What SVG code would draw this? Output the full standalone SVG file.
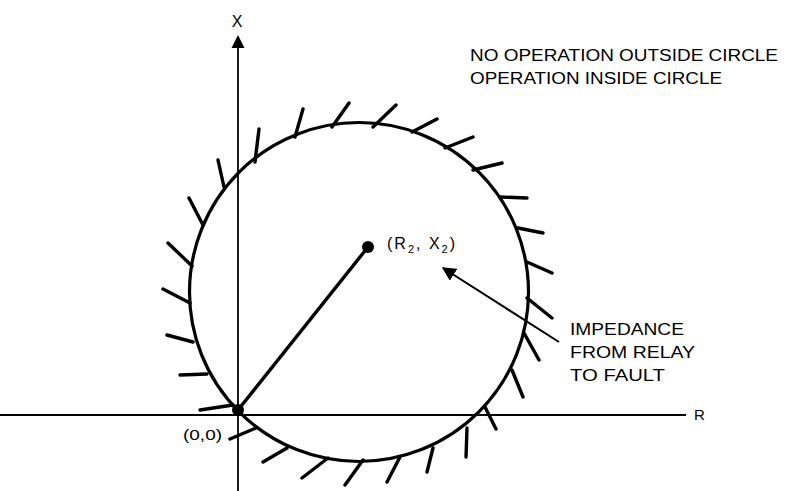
<svg xmlns="http://www.w3.org/2000/svg" width="792" height="491" viewBox="0 0 792 491">
<style>
  .ax { stroke:#000; stroke-width:1.8; fill:none; }
  .circ { stroke:#000; stroke-width:3.2; fill:none; }
  .tick { stroke:#000; stroke-width:3.4; fill:none; stroke-linecap:round; }
  .t { font-family:"Liberation Sans", Arial, sans-serif; fill:#000; }
</style>
<defs>
  <marker id="ah" viewBox="0 0 10 10" refX="9" refY="5" markerWidth="7" markerHeight="7" markerUnits="strokeWidth" orient="auto">
    <path d="M0,0 L10,5 L0,10 z" fill="#000"/>
  </marker>
</defs>
<rect width="792" height="491" fill="#fff"/>
<g id="axes">
  <line class="ax" x1="238" y1="46" x2="238" y2="491"/>
  <path d="M238,35 L231.5,48 L244.5,48 z" fill="#000"/>
  <line class="ax" x1="0" y1="415" x2="686" y2="415"/>
  <text class="t" x="237" y="27" font-size="16" text-anchor="middle">X</text>
  <text class="t" x="694" y="420" font-size="15">R</text>
</g>
<g id="circle">
  <circle class="circ" cx="359" cy="292" r="169.5"/>
  <path class="tick" d="M203,225 L189,198 M192,266 L168,243 M190,303 L163,289 M193,342 L167,335 M207,374 L180,375 M233,405 L200,410 M256,428 L230,439 M287,448 L263,462 M328,458 L302,478 M363,460 L345,485 M400,457 L387,482 M433,448 L427,472 M467,428 L466,457 M485,407 L496,429 M512,370 L523,397 M524,333 L539,360 M527,298 L552,318 M527,262 L552,273 M518,228 L543,233 M500,197 L527,198 M473,170 L502,163 M445,148 L473,137 M412,132 L437,119 M373,127 L396,105 M332,127 L349,103 M295,137 L303,109 M255,162 L259,129 M224,187 L218,160"/>
</g>
<g id="vector">
  <line x1="238" y1="410" x2="368" y2="247" stroke="#000" stroke-width="3.4"/>
  <circle cx="238" cy="410" r="6" fill="#000"/>
  <circle cx="368" cy="247" r="6" fill="#000"/>
  <text class="t" x="387" y="249" font-size="16" letter-spacing="2">(R<tspan font-size="11" dy="4">2</tspan><tspan dy="-4">, X</tspan><tspan font-size="11" dy="4">2</tspan><tspan dy="-4">)</tspan></text>
  <text class="t" x="183" y="440" font-size="15.5" textLength="39" lengthAdjust="spacingAndGlyphs">(0,0)</text>
</g>
<g id="connectors">
  <line x1="559" y1="342" x2="443" y2="268" stroke="#000" stroke-width="2" marker-end="url(#ah)"/>
</g>
<g id="labels">
  <text class="t" x="470" y="61" font-size="16" textLength="308" lengthAdjust="spacingAndGlyphs">NO OPERATION OUTSIDE CIRCLE</text>
  <text class="t" x="470" y="84" font-size="16" textLength="252" lengthAdjust="spacingAndGlyphs">OPERATION INSIDE CIRCLE</text>
  <text class="t" x="570" y="335" font-size="16" textLength="114" lengthAdjust="spacingAndGlyphs">IMPEDANCE</text>
  <text class="t" x="570" y="358" font-size="16" textLength="125" lengthAdjust="spacingAndGlyphs">FROM RELAY</text>
  <text class="t" x="570" y="381" font-size="16" textLength="95" lengthAdjust="spacingAndGlyphs">TO FAULT</text>
</g>
</svg>
